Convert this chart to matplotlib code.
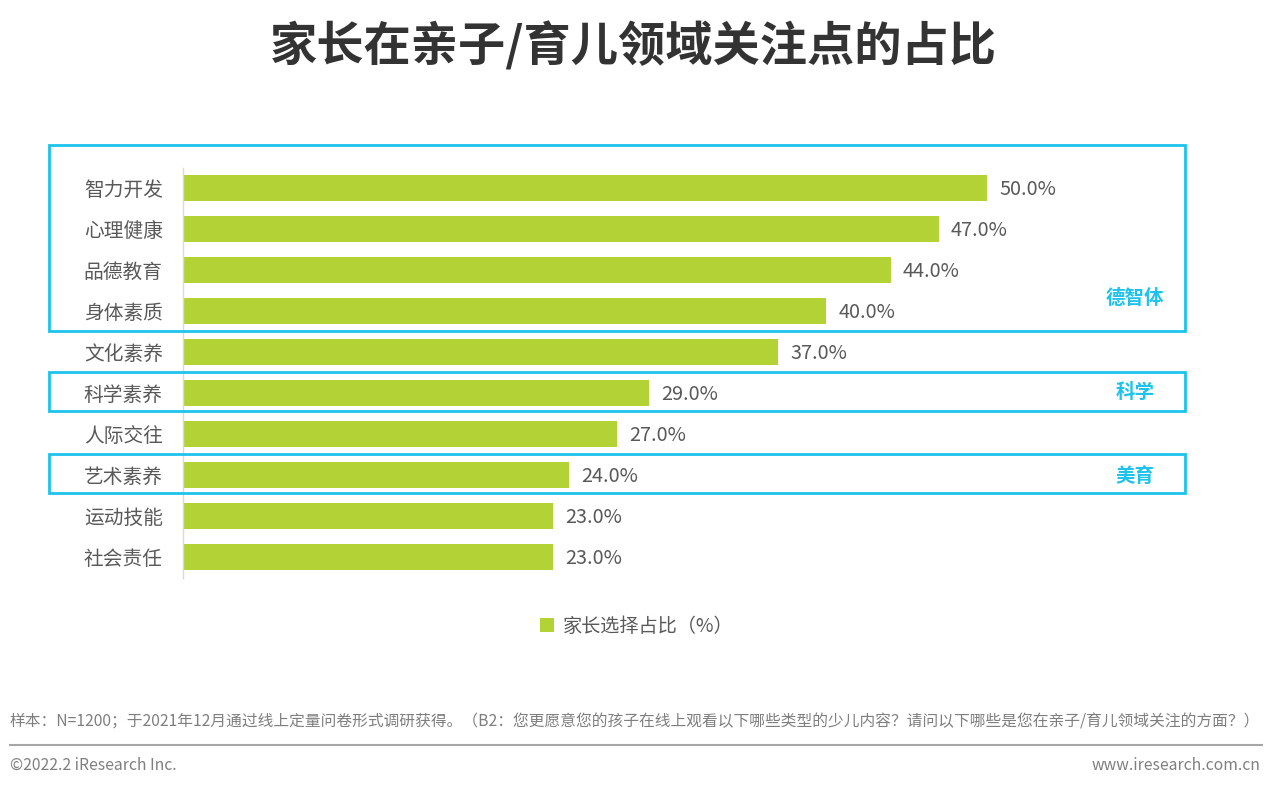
import matplotlib
matplotlib.use("Agg")
import matplotlib.pyplot as plt
from matplotlib.patches import Rectangle

plt.rcParams['font.family'] = ['Noto Sans CJK SC', 'DejaVu Sans']

categories = ["智力开发", "心理健康", "品德教育", "身体素质", "文化素养",
              "科学素养", "人际交往", "艺术素养", "运动技能", "社会责任"]
values = [50.0, 47.0, 44.0, 40.0, 37.0, 29.0, 27.0, 24.0, 23.0, 23.0]
series_name = "家长选择占比（%）"
title = "家长在亲子/育儿领域关注点的占比"
groups = [("德智体", 0, 3), ("科学", 5, 5), ("美育", 7, 7)]
note = "样本：N=1200；于2021年12月通过线上定量问卷形式调研获得。（B2：您更愿意您的孩子在线上观看以下哪些类型的少儿内容？请问以下哪些是您在亲子/育儿领域关注的方面？）"
copyright_txt = "©2022.2 iResearch Inc."
website = "www.iresearch.com.cn"

W, H = 1280, 789
fig = plt.figure(figsize=(12.8, 7.89), dpi=100)

BAR = "#B2D235"
CYAN = "#1DC3EC"
GRAY = "#595959"

# axes placement (pixels)
ax_left, ax_right = 183, 183 + 60 * 16.08
ax_top, ax_bot = 167.5, 577.5
ax = fig.add_axes([ax_left / W, 1 - ax_bot / H, (ax_right - ax_left) / W, (ax_bot - ax_top) / H])
ax.set_facecolor("none")
y = list(range(len(categories)))
bars = ax.barh(y, values, height=0.63, color=BAR, label=series_name)
ax.set_xlim(0, 60)
ax.set_ylim(len(categories) - 0.5, -0.5)
ax.set_yticks(y)
ax.set_yticklabels(categories, fontsize=14.2, color=GRAY)
ax.tick_params(axis='y', length=0, pad=14.5)
ax.set_xticks([])
for s in ["top", "right", "bottom"]:
    ax.spines[s].set_visible(False)
ax.spines["left"].set_color("#D9D9D9")
ax.spines["left"].set_linewidth(1)
for yi, v in zip(y, values):
    ax.text(v + 0.75, yi + 0.03, f"{v:.1f}%", va="center", ha="left", fontsize=14.3, color=GRAY)

# group boxes
def ypx(i):
    return ax_top + (i + 0.5) * 41.0

for name, i0, i1 in groups:
    if i0 == 0:
        top = ypx(i0) - 43
        bot = ypx(i1) + 20
        ty = bot - 33
    else:
        top = ypx(i0) - 21
        bot = ypx(i1) + 17.5
        ty = (top + bot) / 2 + (1 if name == "科学" else 3)
    rect = Rectangle((49 / W, 1 - bot / H), (1185 - 49) / W, (bot - top) / H,
                     transform=fig.transFigure, fill=False, edgecolor=CYAN, linewidth=2)
    fig.add_artist(rect)
    fig.text(1135 / W, 1 - ty / H, name,
             ha="center", va="center", fontsize=14, fontweight="bold", color=CYAN)

# title
fig.text(0.5 * (268 + 998) / W, 1 - 47 / H, title, ha="center", va="center",
         fontsize=34, fontweight="bold", color="#333333")

# legend
leg = fig.legend(handles=[bars], labels=[series_name], loc="center",
                 bbox_to_anchor=(637 / W, 1 - 626 / H), frameon=False,
                 fontsize=13.8, handlelength=0.7, handleheight=0.7, handletextpad=0.5)
for t in leg.get_texts():
    t.set_color(GRAY)

# footer
fig.text(10 / W, 1 - 722 / H, note, ha="left", va="center", fontsize=11.3, color="#7F7F7F")
fig.add_artist(plt.Line2D([10 / W, 1262 / W], [1 - 745 / H, 1 - 745 / H],
                          transform=fig.transFigure, color="#A6A6A6", linewidth=1.5))
fig.text(10 / W, 1 - 765 / H, copyright_txt, ha="left", va="center", fontsize=11.3, color="#7F7F7F")
fig.text(1260 / W, 1 - 765 / H, website, ha="right", va="center", fontsize=11.3, color="#7F7F7F")

fig.savefig("out.png", dpi=100, facecolor="white")
